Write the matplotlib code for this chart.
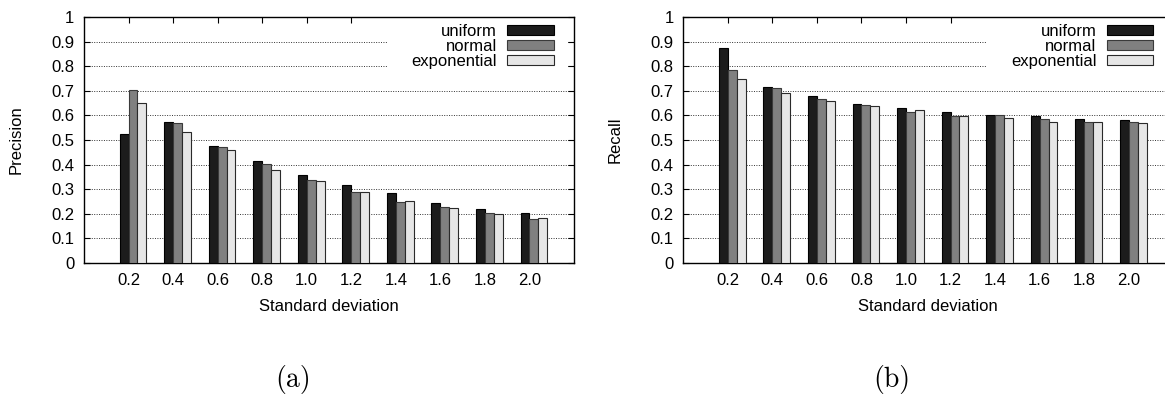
import numpy as np
import matplotlib
matplotlib.use('Agg')
import matplotlib.pyplot as plt
from matplotlib.patches import Patch, Rectangle

plt.rcParams['font.family'] = ['Liberation Sans', 'DejaVu Sans']
plt.rcParams['font.size'] = 12

desvios = ['0.2', '0.4', '0.6', '0.8', '1.0', '1.2', '1.4', '1.6', '1.8', '2.0']
series = ['uniform', 'normal', 'exponential']

precision_uniform = [0.524, 0.572, 0.476, 0.416, 0.357, 0.315, 0.284, 0.243, 0.219, 0.205]
precision_normal = [0.702, 0.569, 0.470, 0.401, 0.337, 0.288, 0.249, 0.226, 0.202, 0.178]
precision_exponential = [0.651, 0.534, 0.458, 0.379, 0.332, 0.288, 0.253, 0.224, 0.201, 0.182]

recall_uniform = [0.874, 0.717, 0.678, 0.648, 0.630, 0.614, 0.600, 0.599, 0.584, 0.580]
recall_normal = [0.784, 0.713, 0.667, 0.643, 0.614, 0.599, 0.600, 0.585, 0.575, 0.575]
recall_exponential = [0.749, 0.693, 0.660, 0.637, 0.621, 0.599, 0.588, 0.573, 0.575, 0.570]

cores = ['#1c1c1c', '#808080', '#e6e6e6']
bordas = ['#000000', '#3a3a3a', '#2a2a2a']
largura = 0.2
deslocamentos = [-0.1, 0.1, 0.3]


def desenhar_painel(ax, valores, rotulo_y):
    x = np.arange(len(desvios))
    for serie, vals, cor, borda, d in zip(series, valores, cores, bordas, deslocamentos):
        ax.bar(x + d, vals, width=largura, color=cor, edgecolor=borda,
               linewidth=0.8, zorder=3)

    ax.set_xlim(-1.0, 10.0)
    ax.set_ylim(0, 1)
    ax.set_xticks(x)
    ax.set_xticklabels(desvios)
    yt = np.round(np.arange(0, 1.01, 0.1), 1)
    ax.set_yticks(yt)
    ax.set_yticklabels(['0'] + [f'{v:.1f}' for v in yt[1:-1]] + ['1'])

    ax.tick_params(axis='x', direction='in', top=True, bottom=False,
                   length=4.5, width=0.8, pad=7)
    ax.tick_params(axis='y', direction='in', left=True, right=True,
                   length=4.5, width=0.8, pad=7)
    for s in ax.spines.values():
        s.set_linewidth(1.0)

    ax.grid(axis='y', linestyle=(0, (1, 1.5)), color='#333333',
            linewidth=0.7, zorder=0)
    ax.set_axisbelow(True)

    # fundo branco da legenda cobre a grade
    ax.add_patch(Rectangle((0.618, 0.75), 0.368, 0.245, transform=ax.transAxes,
                           facecolor='white', edgecolor='none', zorder=1))

    handles = [Patch(facecolor=c, edgecolor=b, linewidth=0.8)
               for c, b in zip(cores, bordas)]
    leg = ax.legend(handles, series, loc='upper right',
                    bbox_to_anchor=(0.959, 0.972), frameon=False,
                    markerfirst=False, handlelength=2.8, handleheight=0.5,
                    handletextpad=0.6, labelspacing=0.0, borderpad=0,
                    borderaxespad=0, fontsize=12)
    leg.set_zorder(5)

    ax.set_xlabel('Standard deviation')
    ax.xaxis.set_label_coords(0.5, -0.145)
    ax.set_ylabel(rotulo_y)
    ax.yaxis.set_label_coords(-0.124, 0.5)


fig = plt.figure(figsize=(11.65, 3.95), dpi=100)
ax1 = fig.add_axes([0.0721, 0.3342, 0.4206, 0.6228])
ax2 = fig.add_axes([0.5865, 0.3342, 0.4206, 0.6228])

desenhar_painel(ax1, [precision_uniform, precision_normal, precision_exponential], 'Precision')
desenhar_painel(ax2, [recall_uniform, recall_normal, recall_exponential], 'Recall')

fig.text(293 / 1165, 1 - 380 / 395, '(a)', family='cmr10', fontsize=20,
         ha='center', va='center')
fig.text(892 / 1165, 1 - 380 / 395, '(b)', family='cmr10', fontsize=20,
         ha='center', va='center')

plt.savefig('out.png', dpi=100)
plt.close()
